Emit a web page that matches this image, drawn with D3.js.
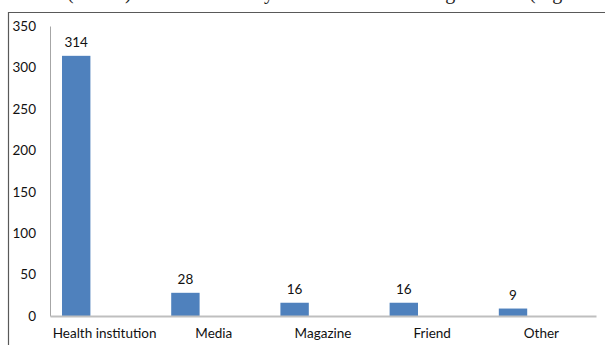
<!DOCTYPE html>
<html>
<head>
<meta charset="utf-8">
<script src="https://cdn.jsdelivr.net/npm/d3@7/dist/d3.min.js"></script>
<style>
  html, body { margin: 0; padding: 0; background: #fff; }
  svg { display: block; }
</style>
</head>
<body>
<svg id="chart" width="605" height="345"></svg>
<script>
// Source of information about the service
const categories = ["Health institution", "Media", "Magazine", "Friend", "Other"];
const counts = [314, 28, 16, 16, 9];
const yTicks = [0, 50, 100, 150, 200, 250, 300, 350];

// Running text of the surrounding page, clipped at the top edge
const pageWords = [
  { text: "(n=383)", x: 67 },
  { text: "by", x: 254 },
  { text: "using", x: 412 },
  { text: "(Figure", x: 529 }
];

const W = 605, H = 345;
const margin = { top: 26, right: 9, bottom: 29, left: 50 };
const svg = d3.select("#chart");
const font = "Lato, 'Open Sans', sans-serif";
const fs = 13.5;

// page text fragment above the chart frame
svg.append("g").selectAll("text").data(pageWords).join("text")
  .attr("x", d => d.x).attr("y", -1.5)
  .attr("font-family", "'Liberation Serif', 'Times New Roman', serif")
  .attr("font-size", 20).attr("fill", "#222")
  .text(d => d.text);

// chart frame
svg.append("path")
  .attr("d", `M8.5,${H} V12.5 H${W}`)
  .attr("fill", "none").attr("stroke", "#595959").attr("stroke-width", 1.2);

const x = d3.scaleBand().domain(categories)
  .range([margin.left, W - margin.right]).paddingInner(0).paddingOuter(0);
const y = d3.scaleLinear().domain([0, 350]).range([H - margin.bottom, margin.top]);

// y axis
const yAxis = svg.append("g").attr("transform", `translate(${margin.left},0)`)
  .call(d3.axisLeft(y).tickValues(yTicks).tickSize(0).tickPadding(14));
yAxis.select(".domain").attr("stroke", "#a6a6a6").attr("stroke-width", 1);
yAxis.selectAll("text").attr("font-family", font).attr("font-size", fs).attr("fill", "#111");

// bars (placed left of band centre, clustered layout)
const bw = x.bandwidth();
svg.append("g").selectAll("rect").data(categories).join("rect")
  .attr("x", (d) => x(d) + bw * 0.11)
  .attr("width", bw * 0.26)
  .attr("y", (d, i) => y(counts[i]))
  .attr("height", (d, i) => y(0) - y(counts[i]))
  .attr("fill", "#4f81bd");

// value labels
svg.append("g").selectAll("text").data(categories).join("text")
  .attr("x", (d) => x(d) + bw * 0.24)
  .attr("y", (d, i) => y(counts[i]) - 9)
  .attr("text-anchor", "middle")
  .attr("font-family", font).attr("font-size", fs).attr("fill", "#111")
  .text((d, i) => counts[i]);

// x axis
const xAxis = svg.append("g").attr("transform", `translate(0,${y(0)})`)
  .call(d3.axisBottom(x).tickSize(0).tickPadding(12));
xAxis.select(".domain").attr("stroke", "#bfbfbf").attr("stroke-width", 2);
xAxis.selectAll("text").attr("font-family", font).attr("font-size", fs).attr("fill", "#111");
</script>
</body>
</html>
